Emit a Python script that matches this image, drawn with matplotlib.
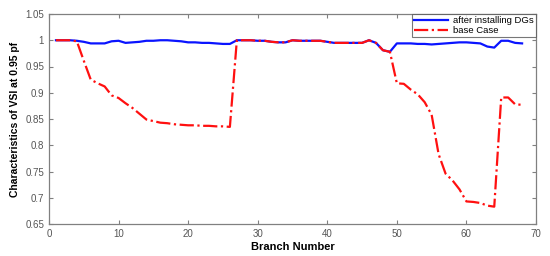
import matplotlib
matplotlib.use('Agg')
import matplotlib.pyplot as plt

plt.rcParams['font.family'] = ['Liberation Sans', 'DejaVu Sans']

# Branch numbers 1..68
branches = list(range(1, 69))

# VSI after installing DGs
vsi_dg = [1.000, 1.000, 1.000, 0.999, 0.997, 0.994, 0.994, 0.994, 0.998, 0.999,
          0.995, 0.996, 0.997, 0.999, 0.999, 1.000, 1.000, 0.999, 0.998, 0.996,
          0.996, 0.995, 0.995, 0.994, 0.993, 0.993, 1.000, 1.000, 1.000, 0.999,
          0.999, 0.997, 0.996, 0.996, 1.000, 0.999, 0.999, 0.999, 0.999, 0.997,
          0.995, 0.995, 0.995, 0.995, 0.995, 1.000, 0.995, 0.981, 0.978, 0.994,
          0.994, 0.994, 0.993, 0.993, 0.992, 0.993, 0.994, 0.995, 0.996, 0.996,
          0.995, 0.994, 0.988, 0.986, 0.999, 0.999, 0.995, 0.994]

# VSI base case
vsi_base = [1.000, 1.000, 1.000, 0.998, 0.961, 0.925, 0.918, 0.912, 0.895, 0.890,
            0.880, 0.871, 0.860, 0.849, 0.846, 0.843, 0.842, 0.840, 0.839, 0.838,
            0.838, 0.837, 0.837, 0.836, 0.836, 0.835, 1.000, 1.000, 1.000, 0.999,
            0.999, 0.997, 0.996, 0.996, 1.000, 0.999, 0.999, 0.999, 0.999, 0.997,
            0.995, 0.995, 0.995, 0.995, 0.995, 1.000, 0.995, 0.981, 0.978, 0.918,
            0.917, 0.906, 0.897, 0.882, 0.858, 0.783, 0.746, 0.733, 0.716, 0.693,
            0.692, 0.690, 0.685, 0.683, 0.891, 0.891, 0.878, 0.877]

fig = plt.figure(figsize=(5.5, 2.56), dpi=100)
ax = fig.add_axes([49 / 550, 1 - 224 / 256, (536 - 49) / 550, (224 - 14) / 256])

ax.plot(branches, vsi_dg, color='#0a14ff', lw=1.6, label='after installing DGs')
ax.plot(branches, vsi_base, color='#ff1010', lw=1.6, ls='-.', label='base Case')

ax.set_xlim(0, 70)
ax.set_ylim(0.65, 1.05)
ax.set_xticks(range(0, 71, 10))
ax.set_yticks([0.65, 0.7, 0.75, 0.8, 0.85, 0.9, 0.95, 1.0, 1.05])
ax.set_yticklabels(['0.65', '0.7', '0.75', '0.8', '0.85', '0.9', '0.95', '1', '1.05'])

for sp in ax.spines.values():
    sp.set_color('#808080')
    sp.set_linewidth(0.9)
ax.tick_params(direction='in', top=True, right=True, length=3, width=0.8,
               colors='#808080', labelcolor='#555555', labelsize=7)

ax.set_xlabel('Branch Number', fontsize=8, fontweight='bold', labelpad=2)
ax.set_ylabel('Characteristics of VSI at 0.95 pf', fontsize=7.5, fontweight='bold', labelpad=4)

leg = ax.legend(loc='upper right', fontsize=6.8, frameon=True, fancybox=False,
                borderaxespad=0.0, handlelength=3.6, handletextpad=0.5,
                borderpad=0.25, labelspacing=0.05)
leg.get_frame().set_edgecolor('#555555')
leg.get_frame().set_linewidth(0.8)

fig.savefig('out.png', dpi=100)
